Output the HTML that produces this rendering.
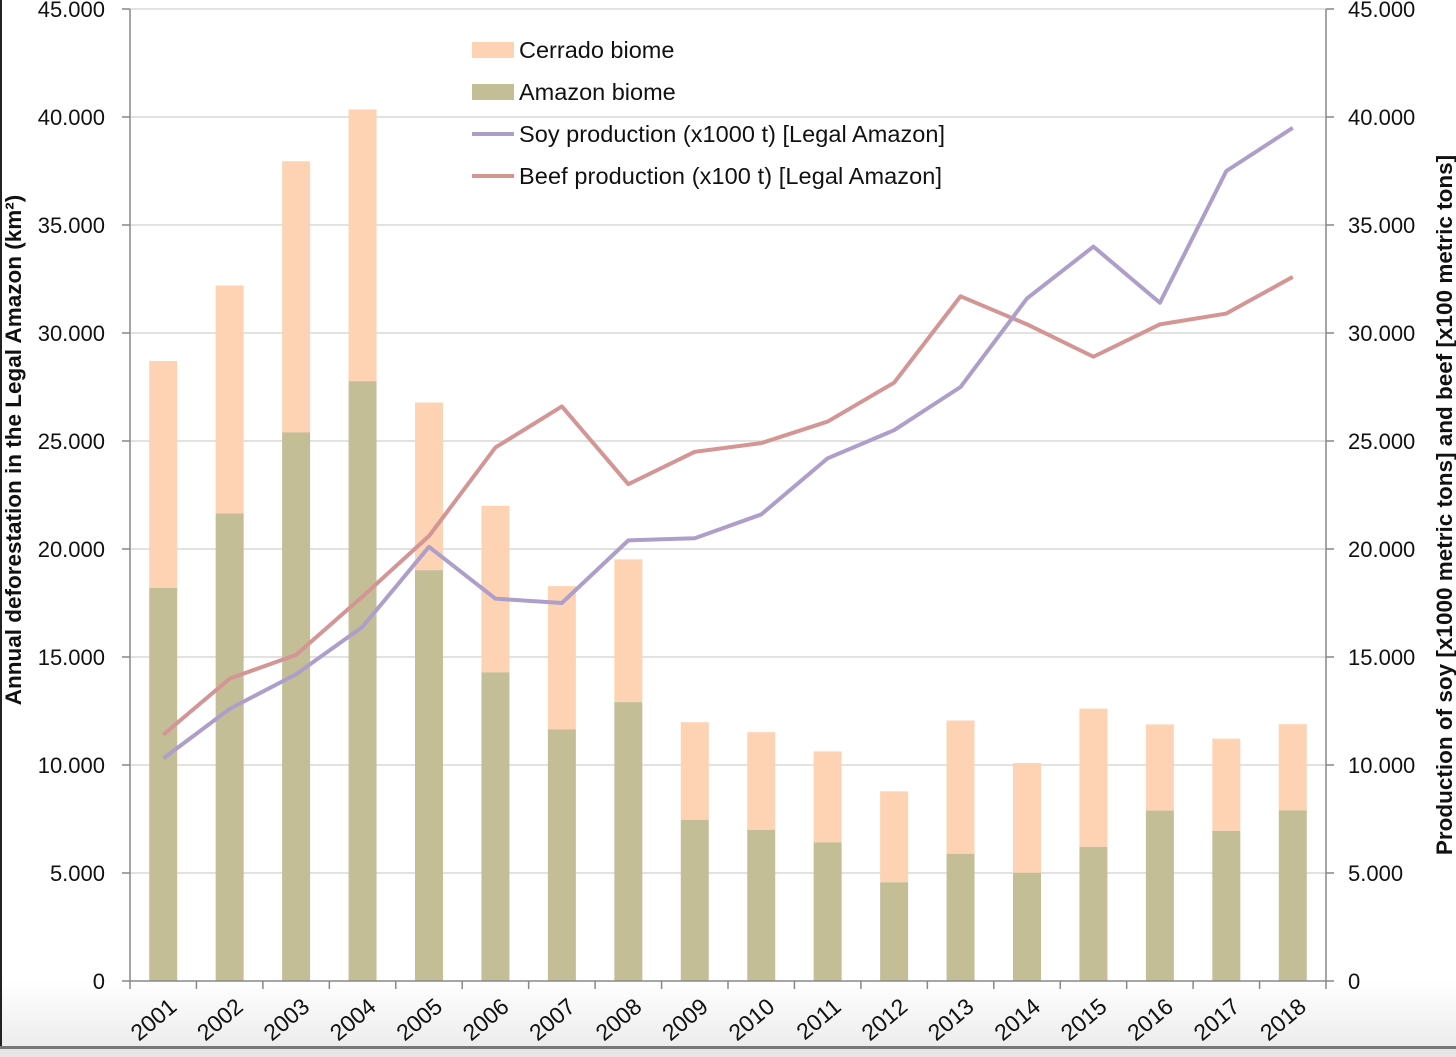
<!DOCTYPE html>
<html><head><meta charset="utf-8"><style>
body{margin:0;background:#fff;}
svg{display:block;font-family:"Liberation Sans",sans-serif;}
</style></head><body>
<svg id="chart" width="1456" height="1057" viewBox="0 0 1456 1057">
<defs><linearGradient id="bg" x1="0" y1="0" x2="0" y2="1"><stop offset="0" stop-color="#fff"/><stop offset="1" stop-color="#ececec"/></linearGradient></defs>
<rect x="0" y="980" width="1456" height="68" fill="url(#bg)"/>
<rect x="0" y="1046" width="1456" height="3" fill="#777"/>
<rect x="0" y="1049" width="1456" height="8" fill="#e6e6e6"/>
<rect x="0" y="0" width="2" height="1046" fill="#222"/>
<g id="grid"></g><g id="bars"></g><g id="lines"></g><g id="axes"></g>
<text transform="translate(21,450) rotate(-90)" text-anchor="middle" font-size="22.5" font-weight="bold" fill="#111">Annual deforestation in the Legal Amazon (km²)</text>
<text transform="translate(1452,505) rotate(-90)" text-anchor="middle" font-size="22.5" font-weight="bold" fill="#111">Production of soy [x1000 metric tons] and beef [x100 metric tons]</text>
<g font-size="23.5" fill="#111">
<rect x="472" y="42" width="42" height="16" fill="#fdd3b3"/>
<text x="519" y="58">Cerrado biome</text>
<rect x="472" y="84" width="42" height="16" fill="#c4be97"/>
<text x="519" y="100">Amazon biome</text>
<line x1="472" y1="134" x2="514" y2="134" stroke="#ad9fc9" stroke-width="4"/>
<text x="519" y="142" textLength="426">Soy production (x1000 t) [Legal Amazon]</text>
<line x1="472" y1="176" x2="514" y2="176" stroke="#d49595" stroke-width="4"/>
<text x="519" y="184" textLength="423">Beef production (x100 t) [Legal Amazon]</text>
</g>
</svg>
<script>
const years=["2001","2002","2003","2004","2005","2006","2007","2008","2009","2010","2011","2012","2013","2014","2015","2016","2017","2018"];
const amazon=[18200,21650,25400,27770,19020,14290,11650,12910,7460,7000,6420,4570,5890,5010,6210,7890,6950,7900];
const total=[28700,32200,37950,40350,26780,22000,18280,19520,11980,11520,10630,8780,12060,10090,12610,11880,11220,11890];
const soy=[10300,12600,14200,16400,20100,17700,17500,20400,20500,21600,24200,25500,27500,31600,34000,31400,37500,39500];
const beef=[11400,14000,15100,17800,20600,24700,26600,23000,24500,24900,25900,27700,31700,30400,28900,30400,30900,32600];
const ticks=[0,5000,10000,15000,20000,25000,30000,35000,40000,45000];
const tickLabels=["0","5.000","10.000","15.000","20.000","25.000","30.000","35.000","40.000","45.000"];
const X0=130,X1=1326,Y0=981,Y1=9,MAX=45000;
const band=(X1-X0)/years.length;
const xc=i=>X0+band*(i+0.5);
const y=v=>Y0-(v/MAX)*(Y0-Y1);
const NS="http://www.w3.org/2000/svg";
function mk(t,a,p){const e=document.createElementNS(NS,t);for(const k in a)e.setAttribute(k,a[k]);p.appendChild(e);return e;}
const G=document.getElementById('grid'),B=document.getElementById('bars'),L=document.getElementById('lines'),A=document.getElementById('axes');
ticks.forEach((t,i)=>{
 if(t>0){const g=mk('line',{x1:X0,x2:X1,y1:y(t),y2:y(t),stroke:'#d9d9d9','stroke-width':1.5},G);
 
 }
 const l=mk('text',{x:105,y:y(t)+8,'text-anchor':'end','font-size':22,fill:'#111'},A);l.textContent=tickLabels[i];
 
 
 const r=mk('text',{x:1348,y:y(t)+8,'font-size':22,fill:'#111'},A);r.textContent=tickLabels[i];
 
 
 mk('line',{x1:X0-8,x2:X0,y1:y(t),y2:y(t),stroke:'#888','stroke-width':1.5},A);
 mk('line',{x1:X1,x2:X1+8,y1:y(t),y2:y(t),stroke:'#888','stroke-width':1.5},A);
});
const bw=28;
years.forEach((yr,i)=>{
 const c=mk('rect',{x:xc(i)-bw/2,y:y(total[i]),width:bw,height:y(amazon[i])-y(total[i]),fill:'#fdd3b3'},B);
 
 
 const a=mk('rect',{x:xc(i)-bw/2,y:y(amazon[i]),width:bw,height:Y0-y(amazon[i]),fill:'#c4be97'},B);
 
 
 const tx=xc(i)+4,ty=996;
 const lb=mk('text',{x:tx,y:ty,'text-anchor':'end','font-size':23,fill:'#111',transform:`rotate(-40 ${tx} ${ty}) translate(0 17)`},A);lb.textContent=yr;
 
 
 mk('line',{x1:X0+band*i,x2:X0+band*i,y1:Y0,y2:Y0+8,stroke:'#888','stroke-width':1.5},A);
});
mk('line',{x1:X1-0.01,x2:X1-0.01,y1:Y0,y2:Y0+8,stroke:'#888','stroke-width':1.5},A);
const ax=mk('line',{x1:X0,x2:X1,y1:Y0,y2:Y0,stroke:'#888','stroke-width':1.5},A);


const la=mk('line',{x1:X0,x2:X0,y1:Y1,y2:Y0,stroke:'#888','stroke-width':1.5},A);


const ra=mk('line',{x1:X1,x2:X1,y1:Y1,y2:Y0,stroke:'#888','stroke-width':1.5},A);


const pts=s=>s.map((v,i)=>xc(i)+','+y(v)).join(' ');
const bl=mk('polyline',{points:pts(beef),fill:'none',stroke:'#d49595','stroke-width':4,'stroke-linejoin':'round'},L);


const sl=mk('polyline',{points:pts(soy),fill:'none',stroke:'#ad9fc9','stroke-width':4,'stroke-linejoin':'round'},L);


</script>
</body></html>
